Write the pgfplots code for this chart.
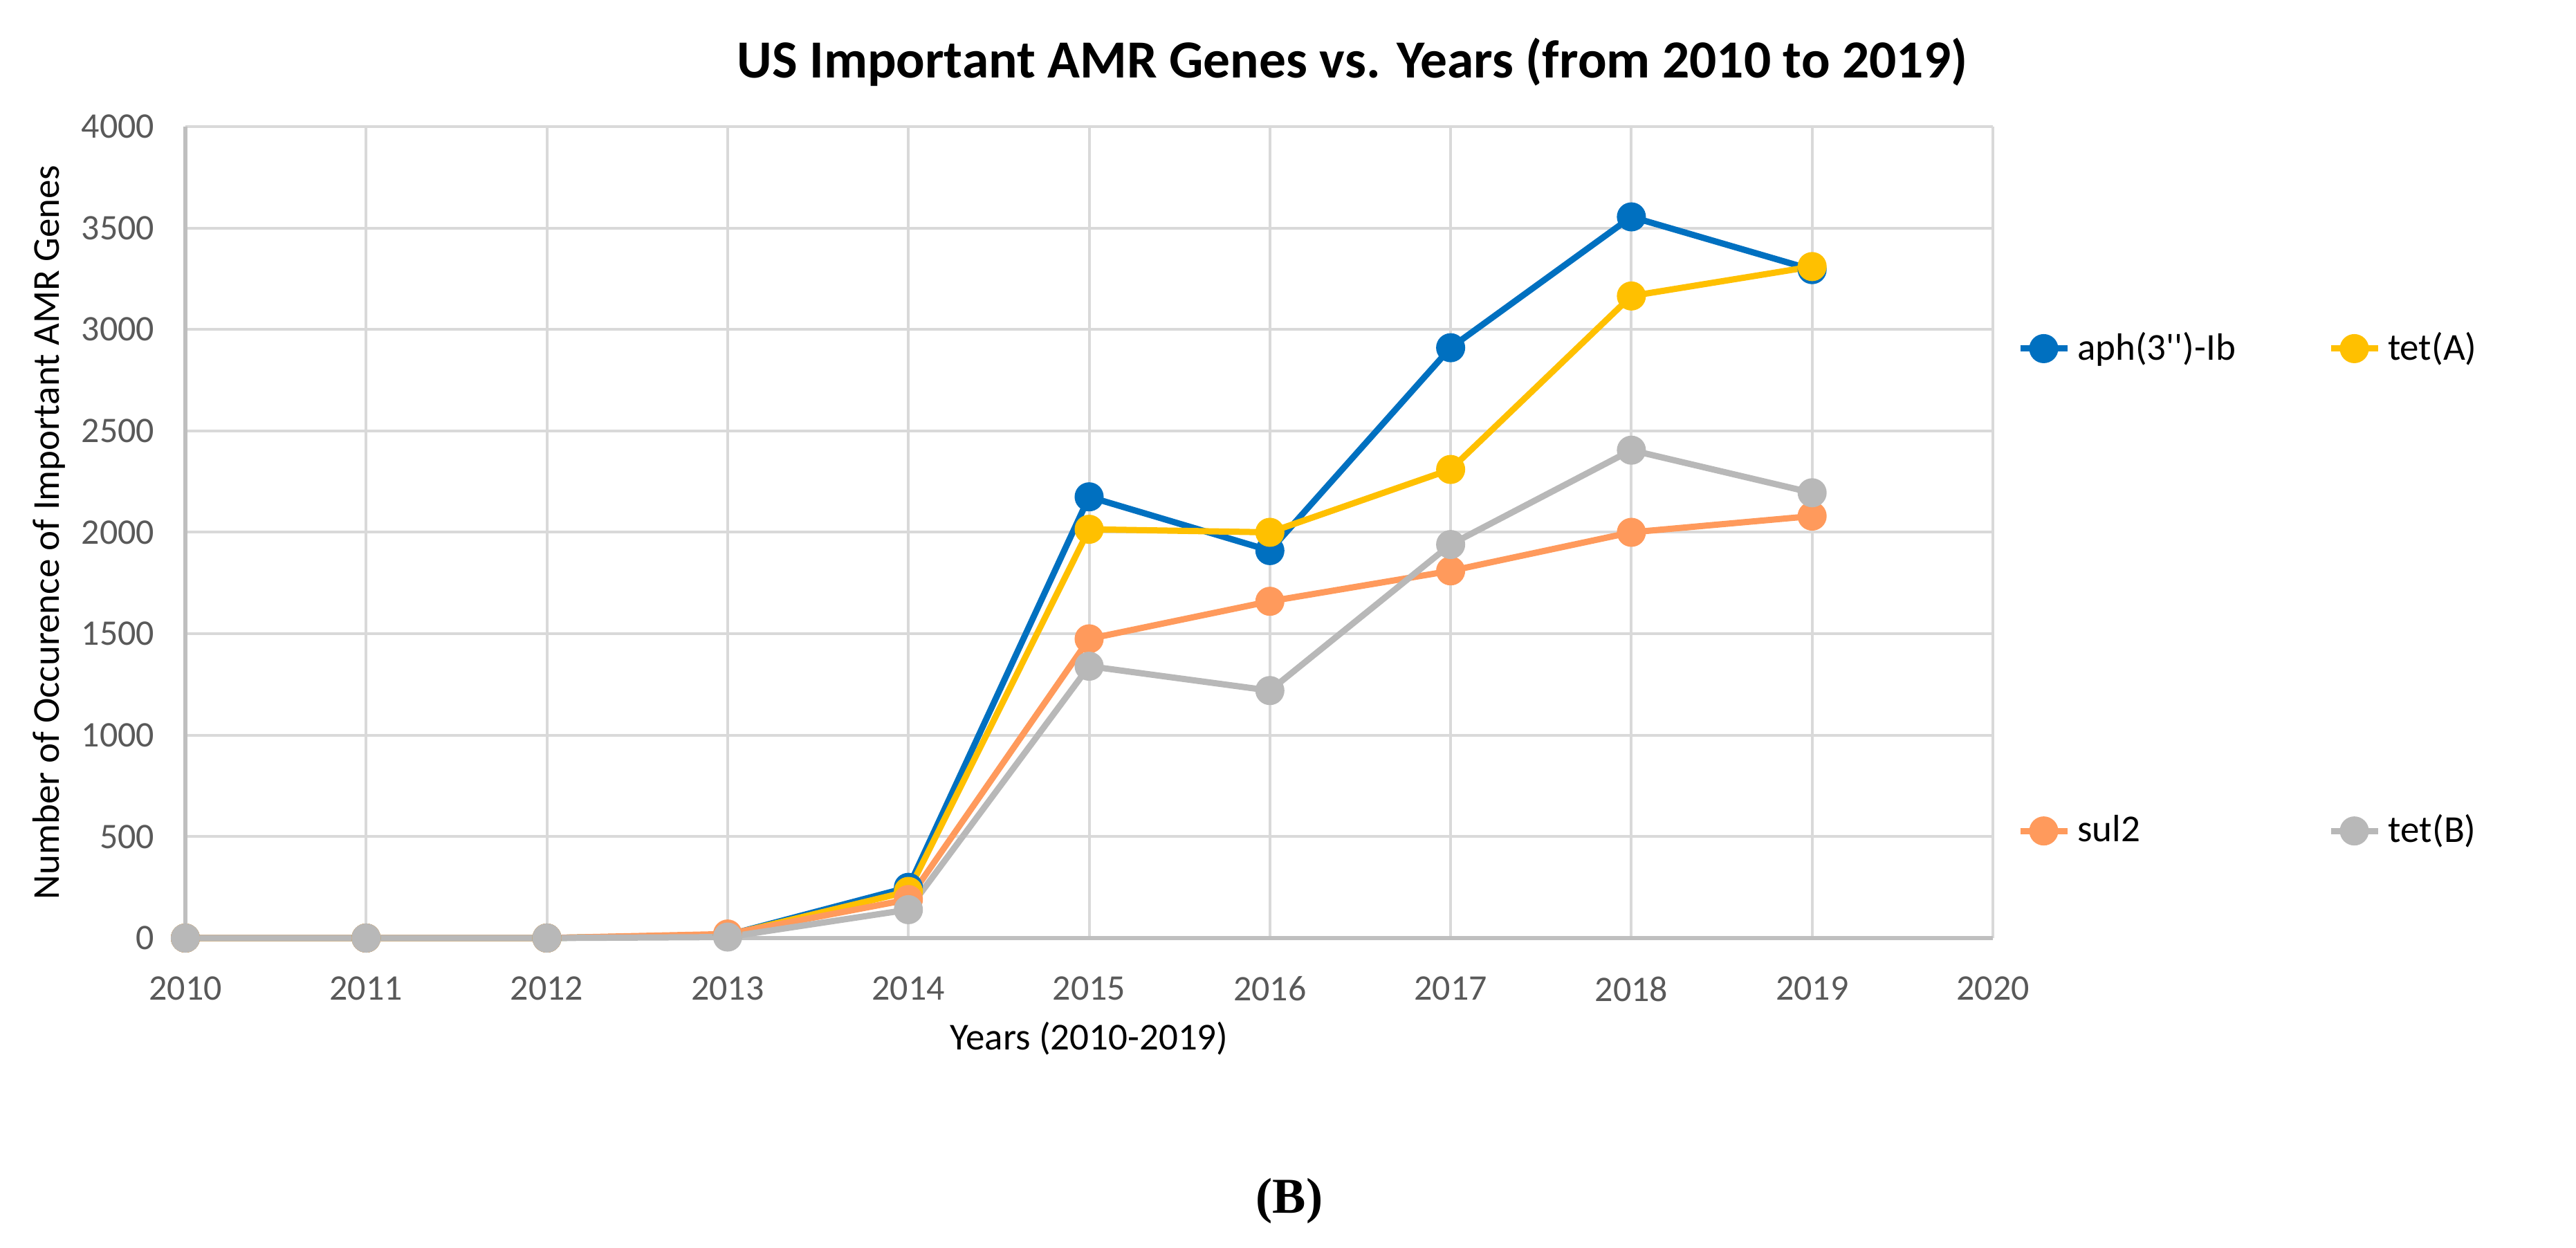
\documentclass[border=0pt]{standalone}
\usepackage{fontspec}
\setmainfont{Carlito}
\newfontfamily\serifb{Liberation Serif}
\usepackage{pgfplots}
\pgfplotsset{compat=1.18}
\definecolor{cblue}{HTML}{0070C0}
\definecolor{cgold}{HTML}{FFC000}
\definecolor{corange}{HTML}{FF9A5C}
\definecolor{cgray}{HTML}{B8B8B8}
\definecolor{gridc}{HTML}{D9D9D9}
\definecolor{axisc}{HTML}{BFBFBF}
\definecolor{tickc}{HTML}{595959}
\begin{document}
\begin{tikzpicture}
\begin{axis}[
  scale only axis,
  width=522.6pt, height=234.6pt,
  at={(0pt,0pt)}, anchor=south west,
  xmin=2010, xmax=2020, ymin=0, ymax=4000,
  xtick={2010,2011,...,2020},
  ytick={0,500,...,4000},
  /pgf/number format/1000 sep={},
  /pgf/number format/assume math mode=true,
  tick label style={font=\fontsize{10.4}{12}\selectfont, text=tickc},
  xticklabel style={yshift=-5.5pt},
  yticklabel style={xshift=-3.3pt},
  tick style={draw=none},
  axis x line=bottom, axis y line=left,
  axis line style={-, draw=axisc, line width=1.1pt},
  grid=major,
  major grid style={draw=gridc, line width=0.8pt},
  legend columns=2,
  legend style={draw=none, fill=none, at={(1.0134,0.4292)}, anchor=west,
    font=\fontsize{11}{13}\selectfont, inner sep=0pt, outer sep=0pt,
    row sep=129.9pt,
    /tikz/every odd column/.append style={column sep=2pt},
    /tikz/every even column/.append style={column sep=0pt},
    nodes={inner sep=0pt}},
  legend image code/.code={\draw[#1, mark repeat=2, mark phase=2] plot coordinates {(0pt,0pt) (6.8pt,0pt) (13.6pt,0pt)};},
  every axis plot/.append style={line width=1.8pt, mark=*, mark size=3.3pt},
  clip=false,
]
\addplot[color=cblue, mark options={fill=cblue, draw=cblue}] coordinates {
 (2010,0) (2011,0) (2012,0) (2013,15) (2014,250) (2015,2175) (2016,1910) (2017,2910) (2018,3555) (2019,3295)};
\addlegendentry{\makebox[72.4pt][l]{aph(3\textquotesingle\textquotesingle)-Ib}}
\addplot[color=cgold, mark options={fill=cgold, draw=cgold}] coordinates {
 (2010,0) (2011,0) (2012,0) (2013,15) (2014,230) (2015,2015) (2016,2000) (2017,2310) (2018,3165) (2019,3310)};
\addlegendentry{tet(A)}
\addplot[color=corange, mark options={fill=corange, draw=corange}] coordinates {
 (2010,0) (2011,0) (2012,0) (2013,20) (2014,190) (2015,1475) (2016,1660) (2017,1810) (2018,2000) (2019,2080)};
\addlegendentry{\makebox[72.4pt][l]{sul2}}
\addplot[color=cgray, mark options={fill=cgray, draw=cgray}] coordinates {
 (2010,0) (2011,0) (2012,0) (2013,5) (2014,140) (2015,1340) (2016,1220) (2017,1940) (2018,2405) (2019,2195)};
\addlegendentry{tet(B)}
\end{axis}
\node[font=\fontsize{11}{13}\selectfont, rotate=90] at (-39.4pt,117.3pt) {Number of Occurence of Important AMR Genes};
\node[font=\fontsize{11}{13}\selectfont] at (261.3pt,-29pt) {Years (2010-2019)};
\node[font=\fontsize{15.5}{18}\selectfont\bfseries] at (337.4pt,253.2pt) {US Important AMR Genes vs. Years (from 2010 to 2019)};
\node[font=\fontsize{14.5}{17}\selectfont\serifb\bfseries] at (319.2pt,-76pt) {(B)};
\path[use as bounding box] (-53.6pt,-89.6pt) rectangle (691.2pt,271.2pt);
\end{tikzpicture}
\end{document}
